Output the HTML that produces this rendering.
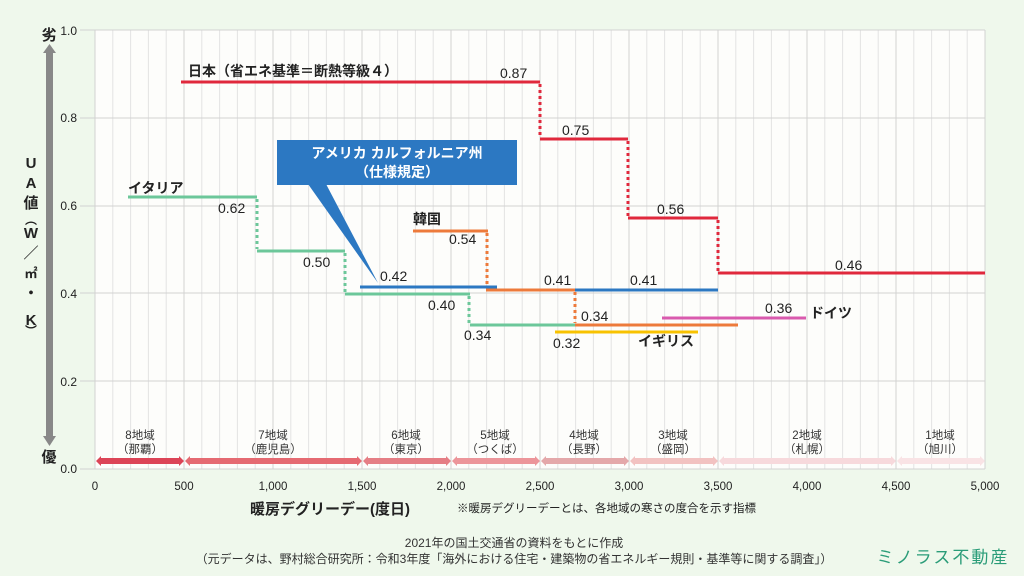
<!DOCTYPE html><html><head><meta charset="utf-8"><style>
body{margin:0;background:#eff8ec;}
svg{display:block;font-family:"Liberation Sans","Noto Sans CJK JP",sans-serif;}
</style></head><body>
<svg width="1024" height="576" viewBox="0 0 1024 576">
<rect width="1024" height="576" fill="#eff8ec"/>
<rect x="95" y="30" width="890" height="439" fill="#fdfdfb"/>
<g stroke="#e3e3e3" stroke-width="1">
<path d="M112.8 30V469M130.6 30V469M148.4 30V469M166.2 30V469M201.8 30V469M219.6 30V469M237.4 30V469M255.2 30V469M290.8 30V469M308.6 30V469M326.4 30V469M344.2 30V469M379.8 30V469M397.6 30V469M415.4 30V469M433.2 30V469M468.8 30V469M486.6 30V469M504.4 30V469M522.2 30V469M557.8 30V469M575.6 30V469M593.4 30V469M611.2 30V469M646.8 30V469M664.6 30V469M682.4 30V469M700.2 30V469M735.8 30V469M753.6 30V469M771.4 30V469M789.2 30V469M824.8 30V469M842.6 30V469M860.4 30V469M878.2 30V469M913.8 30V469M931.6 30V469M949.4 30V469M967.2 30V469"/>
</g>
<g stroke="#d2d2d2" stroke-width="1">
<path d="M95 30V469M184 30V469M273 30V469M362 30V469M451 30V469M540 30V469M629 30V469M718 30V469M807 30V469M896 30V469M985 30V469"/>
<path d="M80 30H985M80 118H985M80 206H985M80 293H985M80 381H985M80 469H985"/>
</g>
<g font-size="12" fill="#222" text-anchor="end">
<text x="77" y="35">1.0</text><text x="77" y="122">0.8</text><text x="77" y="210">0.6</text><text x="77" y="298">0.4</text><text x="77" y="386">0.2</text><text x="77" y="473">0.0</text>
</g>
<g font-size="11.5" fill="#222" text-anchor="middle">
<text x="95" y="490">0</text><text x="184" y="490">500</text><text x="273" y="490">1,000</text><text x="362" y="490">1,500</text><text x="451" y="490">2,000</text><text x="540" y="490">2,500</text><text x="629" y="490">3,000</text><text x="718" y="490">3,500</text><text x="807" y="490">4,000</text><text x="896" y="490">4,500</text><text x="985" y="490">5,000</text>
</g>
<rect x="46" y="52" width="7" height="385" fill="#888"/>
<polygon points="43,53 56,53 49.5,44" fill="#888"/>
<polygon points="43,436 56,436 49.5,446" fill="#888"/>
<text x="49" y="40" font-size="15" font-weight="bold" text-anchor="middle" fill="#222">劣</text>
<text x="49" y="462" font-size="15" font-weight="bold" text-anchor="middle" fill="#222">優</text>
<g font-size="15" font-weight="bold" fill="#222" text-anchor="middle">
<text x="31" y="168">U</text><text x="31" y="188">A</text><text x="31" y="208">値</text><text x="31" y="224" font-size="12">︵</text><text x="31" y="238">W</text><text x="31" y="258">／</text><text x="31" y="278" font-size="13">㎡</text><text x="31" y="298">・</text><text x="31" y="325">K</text><text x="31" y="335" font-size="12">︶</text>
</g>
<g>
<polygon points="96,461 101,456 101,458 179,458 179,456 184,461 179,466 179,464 101,464 101,466" fill="#dc4457"/>
<polygon points="185,461 190,456 190,458 357,458 357,456 362,461 357,466 357,464 190,464 190,466" fill="#e56a72"/>
<polygon points="363,461 368,456 368,458 446,458 446,456 451,461 446,466 446,464 368,464 368,466" fill="#e57e85"/>
<polygon points="452,461 457,456 457,458 535,458 535,456 540,461 535,466 535,464 457,464 457,466" fill="#ec959a"/>
<polygon points="541,461 546,456 546,458 624,458 624,456 629,461 624,466 624,464 546,464 546,466" fill="#e4a8aa"/>
<polygon points="630,461 635,456 635,458 713,458 713,456 718,461 713,466 713,464 635,464 635,466" fill="#f2c2c1"/>
<polygon points="719,461 724,456 724,458 891,458 891,456 896,461 891,466 891,464 724,464 724,466" fill="#f7d9dc"/>
<polygon points="897,461 902,456 902,458 980,458 980,456 985,461 980,466 980,464 902,464 902,466" fill="#f9e3e5"/>
</g>
<g font-size="11.5" fill="#333" text-anchor="middle">
<text x="140" y="439">8地域</text><text x="140" y="453">（那覇）</text>
<text x="273" y="439">7地域</text><text x="273" y="453">（鹿児島）</text>
<text x="406" y="439">6地域</text><text x="406" y="453">（東京）</text>
<text x="495" y="439">5地域</text><text x="495" y="453">（つくば）</text>
<text x="584" y="439">4地域</text><text x="584" y="453">（長野）</text>
<text x="673" y="439">3地域</text><text x="673" y="453">（盛岡）</text>
<text x="807" y="439">2地域</text><text x="807" y="453">（札幌）</text>
<text x="940" y="439">1地域</text><text x="940" y="453">（旭川）</text>
</g>
<g fill="none" stroke-width="3">
<path d="M181 82H540M540 139H628M628 218H718M718 273H985" stroke="#e0283c"/>
<path d="M540 84V137M628 141V216M718 220V271" stroke="#e0283c" stroke-dasharray="3,3"/>
<path d="M128 197H257M257 251H345M345 294H470M470 325H575" stroke="#6cc79a"/>
<path d="M257 199V249M345 253V292M469 296V323" stroke="#6cc79a" stroke-dasharray="3,3"/>
<path d="M413 231H488M486 290H575M575 325H738" stroke="#ed7a3b"/>
<path d="M487 233V288M575 292V323" stroke="#ed7a3b" stroke-dasharray="3,3"/>
<path d="M360 287H497M575 290H718" stroke="#2c78c2"/>
<path d="M555 332H698" stroke="#f8c200"/>
<path d="M662 318H806" stroke="#d95aae"/>
</g>
<g font-size="14" fill="#222">
<text x="188" y="76" font-weight="bold">日本（省エネ基準＝断熱等級４）</text>
<text x="500" y="78">0.87</text><text x="562" y="135">0.75</text><text x="657" y="214">0.56</text><text x="835" y="270">0.46</text>
<text x="128" y="193" font-weight="bold">イタリア</text>
<text x="218" y="213">0.62</text><text x="303" y="267">0.50</text><text x="428" y="310">0.40</text><text x="464" y="340">0.34</text>
<text x="413" y="224" font-weight="bold">韓国</text>
<text x="449" y="244">0.54</text><text x="544" y="285">0.41</text><text x="581" y="321">0.34</text>
<text x="380" y="281">0.42</text><text x="630" y="285">0.41</text>
<text x="553" y="348">0.32</text><text x="638" y="346" font-weight="bold">イギリス</text>
<text x="765" y="313">0.36</text><text x="810" y="318" font-weight="bold">ドイツ</text>
</g>
<rect x="277" y="140" width="240" height="45" fill="#2c78c2"/>
<polygon points="308,184 326,184 378,283" fill="#2c78c2"/>
<text x="397" y="158" font-size="14" font-weight="bold" fill="#fff" text-anchor="middle">アメリカ カルフォルニア州</text>
<text x="397" y="177" font-size="14" font-weight="bold" fill="#fff" text-anchor="middle">（仕様規定）</text>
<text x="250" y="514" font-size="15" font-weight="bold" fill="#222">暖房デグリーデー(度日)</text>
<text x="457" y="512" font-size="11.5" fill="#222">※暖房デグリーデーとは、各地域の寒さの度合を示す指標</text>
<text x="514" y="547" font-size="12" fill="#333" text-anchor="middle">2021年の国土交通省の資料をもとに作成</text>
<text x="514" y="563" font-size="12" fill="#333" text-anchor="middle">（元データは、野村総合研究所：令和3年度「海外における住宅・建築物の省エネルギー規則・基準等に関する調査」）</text>
<text x="943" y="563" font-size="17" fill="#2a9c78" text-anchor="middle" letter-spacing="2">ミノラス不動産</text>
</svg>
</body></html>
